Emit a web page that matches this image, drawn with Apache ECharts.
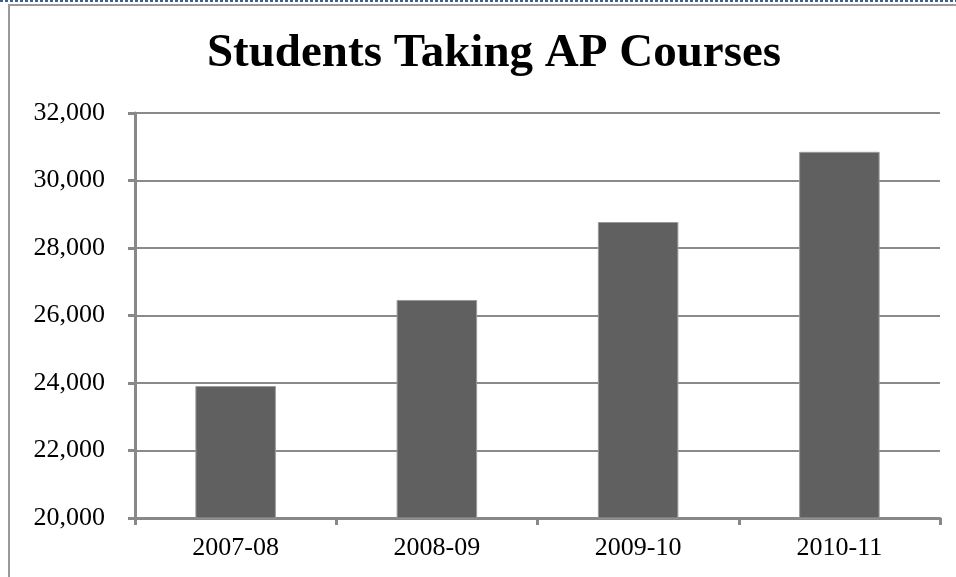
<!DOCTYPE html>
<html>
<head>
<meta charset="utf-8">
<script src="https://cdn.jsdelivr.net/npm/echarts@6/dist/echarts.min.js"></script>
<style>
html,body{margin:0;padding:0;background:#fff;}
#chart{width:956px;height:577px;}
</style>
</head>
<body>
<div id="chart"></div>
<script>
const titleText = 'Students Taking AP Courses';
const categories = ['2007-08', '2008-09', '2009-10', '2010-11'];
const students = [23910, 26460, 28770, 30850];
const yTicks = [20000, 22000, 24000, 26000, 28000, 30000, 32000];

const chart = echarts.init(document.getElementById('chart'), null, {renderer: 'canvas'});
const serif = '"Liberation Serif", "Times New Roman", serif';
chart.setOption({
  animation: false,
  backgroundColor: '#ffffff',
  title: {
    text: titleText,
    left: 489,
    textAlign: 'center',
    top: 25,
    textStyle: {fontFamily: serif, fontWeight: 'bold', fontSize: 47, color: '#000'}
  },
  grid: {left: 135, right: 16, top: 113, bottom: 59, containLabel: false},
  xAxis: {
    type: 'category',
    data: categories,
    boundaryGap: true,
    axisLine: {lineStyle: {color: '#888888', width: 3}},
    axisTick: {show: true, length: 7, lineStyle: {color: '#888888', width: 3}},
    axisLabel: {fontFamily: serif, fontSize: 26, color: '#000', margin: 17}
  },
  yAxis: {
    type: 'value',
    min: yTicks[0],
    max: yTicks[yTicks.length - 1],
    interval: 2000,
    axisLine: {show: true, lineStyle: {color: '#888888', width: 3}},
    axisTick: {show: true, length: 7, lineStyle: {color: '#888888', width: 3}},
    splitLine: {lineStyle: {color: '#8a8a8a', width: 2}},
    axisLabel: {
      fontFamily: serif, fontSize: 26, color: '#000', margin: 30,
      formatter: v => v.toLocaleString('en-US')
    }
  },
  series: [{
    type: 'bar',
    data: students,
    barWidth: '40%',
    itemStyle: {color: '#606060', borderColor: '#9a9a9a', borderWidth: 1}
  }],
  graphic: [
    {type: 'rect', silent: true, shape: {x: 9, y: 5, width: 980, height: 620},
     style: {fill: 'none', stroke: '#9a9a9a', lineWidth: 2}},
    {type: 'line', silent: true, shape: {x1: 0, y1: 1, x2: 956, y2: 1},
     style: {stroke: '#3d5f94', lineWidth: 2, lineDash: [3, 2]}}
  ]
});
</script>
</body>
</html>
